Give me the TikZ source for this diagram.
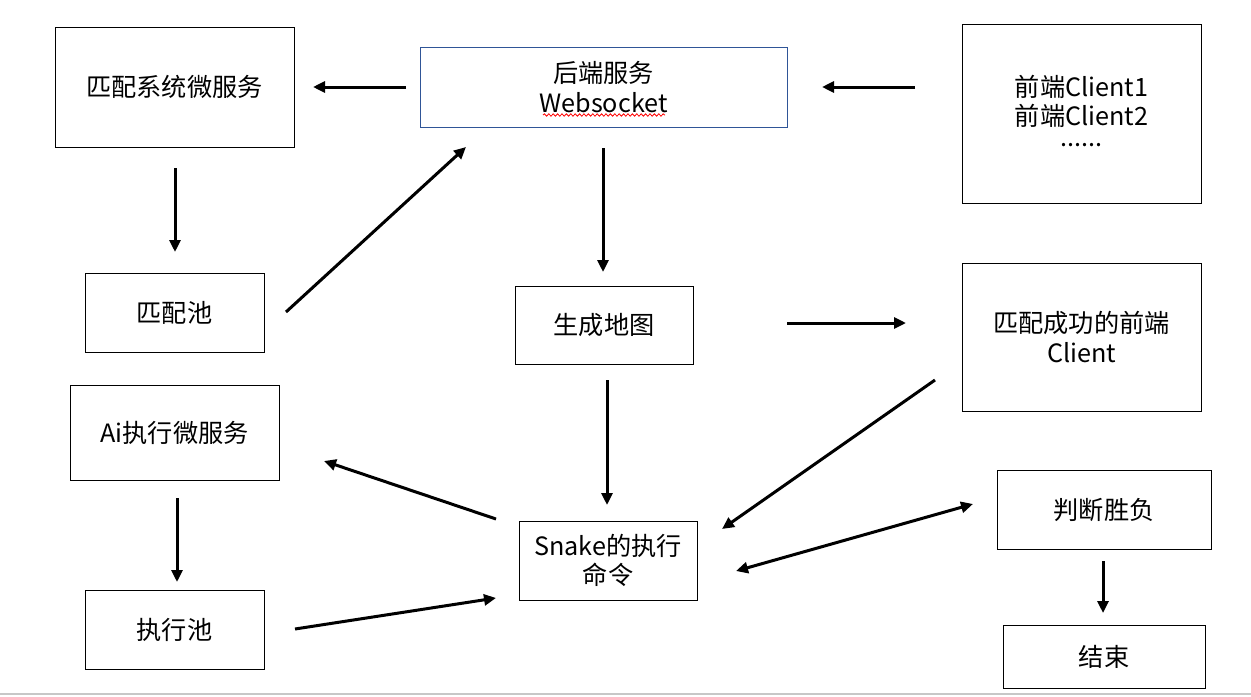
\documentclass[tikz,border=0pt]{standalone}
\usepackage{fontspec}
\setmainfont{Noto Sans CJK SC}
\usetikzlibrary{arrows.meta,decorations.pathmorphing}
\begin{document}
\begin{tikzpicture}[x=0.5pt,y=-0.5pt,
  box/.style={draw=black, line width=0.5pt, rectangle, inner sep=0pt, align=center, font=\fontsize{12.6}{14.8}\selectfont},
  arr/.style={line width=1.5pt, -{Triangle[length=6pt,width=5.5pt]}},
  darr/.style={line width=1.5pt, {Triangle[length=6pt,width=5.5pt]}-{Triangle[length=6pt,width=5.5pt]}}]
\useasboundingbox (0,0) rectangle (1251,696);
\fill[white] (0,0) rectangle (1251,696);
\draw[line width=1pt, black!22] (0,694) -- (1251,694);

\node[box, minimum width=119.5pt, minimum height=60pt] (m) at (174.5,87) {匹配系统微服务};
\node[box, draw={rgb,255:red,47;green,85;blue,151}, minimum width=183.5pt, minimum height=40pt] (b) at (603.5,87) {后端服务\\Websocket};
\node[box, minimum width=119.5pt, minimum height=89.5pt] (c) at (1081.5,113.5) {};
\node[align=center, inner sep=0pt, font=\fontsize{12.6}{14.8}\selectfont] (ct) at (1081.5,111) {前端Client1\\前端Client2\\[-4.5pt]......};
\node[box, minimum width=89.5pt, minimum height=39.5pt] (p) at (174.5,312.5) {匹配池};
\node[box, minimum width=89pt, minimum height=39pt] (g) at (604,325) {生成地图};
\node[box, minimum width=119.5pt, minimum height=74pt] (s) at (1081.5,337) {匹配成功的前端\\Client};
\node[box, minimum width=104.5pt, minimum height=47.5pt] (a) at (174.5,432.5) {Ai执行微服务};
\node[box, minimum width=89pt, minimum height=39.5pt] (k) at (608,560.5) {Snake的执行\\命令};
\node[box, minimum width=107pt, minimum height=39.5pt] (j) at (1104,509.5) {判断胜负};
\node[box, minimum width=89.5pt, minimum height=39.5pt] (e) at (174.5,629.5) {执行池};
\node[box, minimum width=101pt, minimum height=31.5pt] (f) at (1104,656.5) {结束};

\draw[red, line width=0.4pt, decorate, decoration={snake, amplitude=0.6pt, segment length=2.2pt}] (543,115) -- (665,115);

\coordinate (bm1) at (406,87);  \coordinate (bm2) at (313,87);
\coordinate (cb1) at (915,87);  \coordinate (cb2) at (822,87);
\coordinate (mp1) at (175,168); \coordinate (mp2) at (175,252);
\coordinate (pb1) at (286,312); \coordinate (pb2) at (466,147);
\coordinate (bg1) at (603,148); \coordinate (bg2) at (603,272);
\coordinate (gs1) at (787,323); \coordinate (gs2) at (906,323);
\coordinate (gk1) at (607,380); \coordinate (gk2) at (607,505);
\coordinate (sk1) at (935,380); \coordinate (sk2) at (722,529);
\coordinate (ka1) at (496,519); \coordinate (ka2) at (324,461);
\coordinate (ae1) at (177,498); \coordinate (ae2) at (177,582);
\coordinate (ek1) at (295,629); \coordinate (ek2) at (496,598);
\coordinate (kj1) at (736,571); \coordinate (kj2) at (973,504);
\coordinate (jf1) at (1103,561); \coordinate (jf2) at (1103,613);

\draw[arr] (bm1) -- (bm2);
\draw[arr] (cb1) -- (cb2);
\draw[arr] (mp1) -- (mp2);
\draw[arr] (pb1) -- (pb2);
\draw[arr] (bg1) -- (bg2);
\draw[arr] (gs1) -- (gs2);
\draw[arr] (gk1) -- (gk2);
\draw[arr] (sk1) -- (sk2);
\draw[arr] (ka1) -- (ka2);
\draw[arr] (ae1) -- (ae2);
\draw[arr] (ek1) -- (ek2);
\draw[darr] (kj1) -- (kj2);
\draw[arr] (jf1) -- (jf2);
\end{tikzpicture}
\end{document}
